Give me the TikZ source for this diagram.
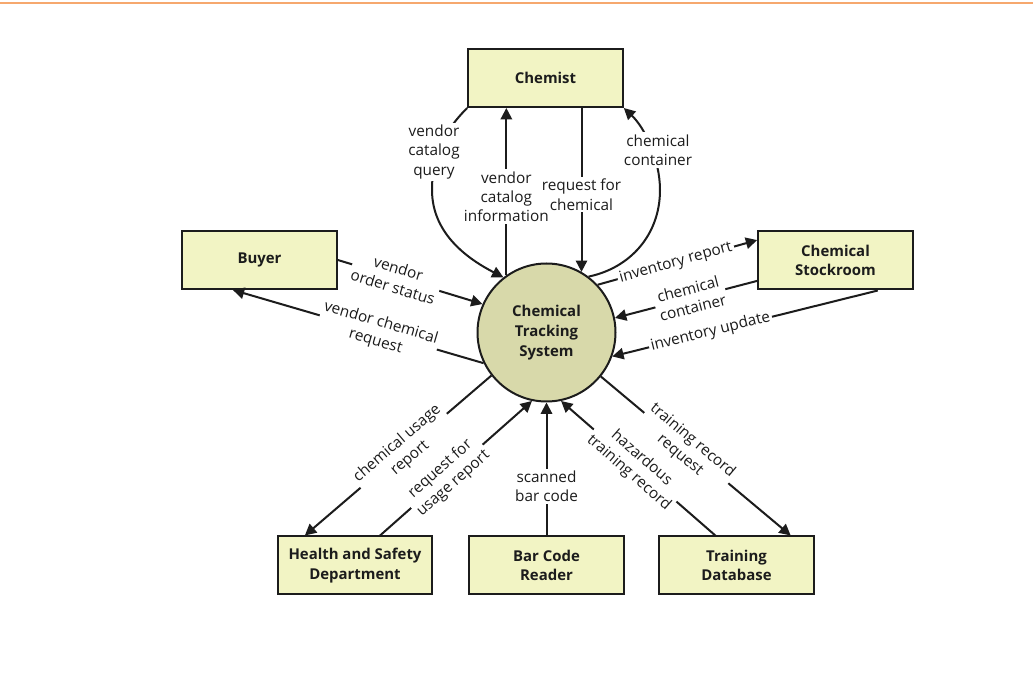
\documentclass[tikz,border=0pt]{standalone}
\usepackage{fontspec}
\setmainfont{Open Sans}
\usetikzlibrary{arrows.meta,calc}
\definecolor{boxfill}{RGB}{242,244,196}
\definecolor{hubfill}{RGB}{216,217,170}
\definecolor{ink}{RGB}{28,28,28}
\definecolor{rulecol}{RGB}{246,168,110}
\begin{document}
\begin{tikzpicture}[x=0.75pt,y=-0.75pt,
  entity/.style={draw=ink, line width=1.5pt, fill=boxfill, minimum width=116pt,
    minimum height=43.5pt, align=center, text=ink, inner sep=2pt,
    font=\fontsize{11.2}{14.5}\selectfont\bfseries},
  hub/.style={circle, draw=ink, line width=1.5pt, fill=hubfill, minimum size=103.5pt,
    align=center, text=ink, inner sep=0pt, font=\fontsize{11.2}{15}\selectfont\bfseries},
  flow/.style={draw=ink, line width=1.5pt, -{Triangle[length=8.5pt,width=8.5pt]}},
  lbl/.style={fill=white, inner sep=1.5pt, align=center, text=ink,
    font=\fontsize{11.5}{14.5}\selectfont},
]
\useasboundingbox (0,0) rectangle (1033,680);
\fill[white] (0,0) rectangle (1033,680);
% thin rule across the top
\draw[rulecol, line width=1.5pt] (0,3) -- (1033,3);

% external entities
\node[entity] (chem)  at (545.5,78)    {Chemist};
\node[entity] (buyer) at (259.5,260)   {Buyer};
\node[entity] (stock) at (835.5,260.5) {Chemical\\Stockroom};
\node[entity] (hsd)   at (355,565.5)   {Health and Safety\\Department};
\node[entity] (bcr)   at (546.5,565.5) {Bar Code\\Reader};
\node[entity] (tdb)   at (736.5,565.5) {Training\\Database};

% the process
\node[hub] (ts) at (546.5,332.5) {Chemical\\Tracking\\System};

% flows with the chemist
\draw[flow] (chem.south west) .. controls (445,130) and (432,155) .. (432,190)
  .. controls (432,235) and (470,260) .. (ts.128);
\node[lbl] (vcq) at (434,152) {vendor\\catalog\\query};

\draw[flow] (ts.125) -- node[lbl, pos=0.47] (vci) {vendor\\catalog\\information}
  (ts.125 |- chem.south);

\draw[flow] (ts.60 |- chem.south) -- node[lbl, pos=0.53] (rfc) {request for\\chemical}
  (ts.60);

\draw[flow] (ts.53) .. controls (630,268) and (660,235) .. (660,190)
  .. controls (660,160) and (645,128) .. (chem.south east);
\node[lbl] (cc1) at (658,150) {chemical\\container};

% flows with the buyer
\draw[flow] (buyer.east) -- node[lbl, sloped, pos=0.4] (vos) {vendor\\order status}
  (ts.156);
\draw[flow] (ts.206) -- node[lbl, sloped, pos=0.42] (vcr) {vendor chemical\\request}
  ($(buyer.south west)!0.33!(buyer.south east)$);

% flows with the stockroom
\draw[flow] (ts.43) -- node[lbl, sloped, pos=0.49] (ir) {inventory report}
  ($(stock.north west)!0.16!(stock.south west)$);
\draw[flow] ($(stock.north west)!0.84!(stock.south west)$)
  -- node[lbl, sloped, pos=0.47] (cc2) {chemical\\container} (ts.12);
\draw[flow] ($(stock.south west)!0.77!(stock.south east)$)
  -- node[lbl, sloped, pos=0.63] (iu) {inventory update} (ts.-20);

% flows along the bottom
\draw[flow] (ts.218) -- node[lbl, sloped, pos=0.47] (cur) {chemical usage\\report}
  ($(hsd.north west)!0.18!(hsd.north east)$);
\draw[flow] ($(hsd.north west)!0.66!(hsd.north east)$)
  -- node[lbl, sloped, pos=0.44] (rur) {request for\\usage report} (ts.258);
\draw[flow] (bcr.north) -- node[lbl, pos=0.37] (sbc) {scanned\\bar code} (ts.south);
\draw[flow] ($(tdb.north west)!0.365!(tdb.north east)$)
  -- node[lbl, sloped, pos=0.52] (htr) {hazardous\\training record} (ts.282);
\draw[flow] (ts.-39) -- node[lbl, sloped, pos=0.45] (trr) {training record\\request}
  ($(tdb.north west)!0.846!(tdb.north east)$);
\end{tikzpicture}
\end{document}
